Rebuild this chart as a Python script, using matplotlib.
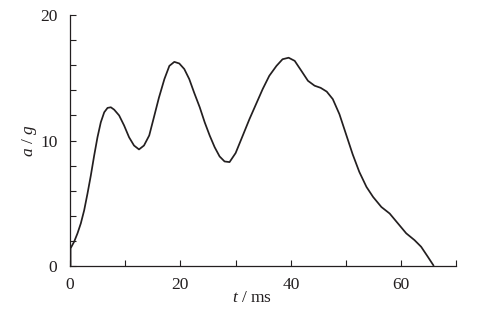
import matplotlib
matplotlib.use('Agg')
import matplotlib.pyplot as plt

plt.rcParams['font.family'] = 'Liberation Serif'
plt.rcParams['mathtext.fontset'] = 'custom'
plt.rcParams['mathtext.it'] = 'Liberation Serif:italic'
plt.rcParams['mathtext.rm'] = 'Liberation Serif'

# time (ms) and acceleration (g)
t = [0.1, 0.1, 0.75, 1.36, 1.96, 2.57, 3.17, 3.77, 4.38, 4.98, 5.58, 6.2, 6.8,
     7.4, 8.0, 8.9, 9.8, 10.7, 11.6, 12.5, 13.4, 14.35, 15.2, 16.1, 17.1,
     18.0, 18.9, 19.8, 20.7, 21.6, 22.5, 23.5, 24.4, 25.3, 26.2, 27.1, 28.0,
     28.9, 30.0, 31.3, 32.5, 33.7, 34.9, 36.1, 37.4, 38.5, 39.6, 40.7, 41.9,
     43.1, 44.3, 45.4, 46.5, 47.6, 48.8, 50.0, 51.2, 52.4, 53.7, 54.9, 56.4,
     57.9, 59.4, 60.9, 62.4, 63.6, 64.8, 65.9]
a = [0.0, 1.4, 1.93, 2.6, 3.39, 4.44, 5.77, 7.2, 8.8, 10.26, 11.45, 12.25, 12.6,
     12.65, 12.46, 12.0, 11.2, 10.26, 9.6, 9.29, 9.6, 10.4, 11.85, 13.4, 14.9,
     15.95, 16.27, 16.14, 15.7, 14.9, 13.8, 12.65, 11.45, 10.4, 9.47, 8.73,
     8.33, 8.28, 9.0, 10.4, 11.7, 12.9, 14.1, 15.16, 15.95, 16.48, 16.6,
     16.35, 15.56, 14.76, 14.37, 14.2, 13.9, 13.3, 12.1, 10.5, 8.9, 7.5, 6.3,
     5.5, 4.7, 4.18, 3.39, 2.6, 2.06, 1.53, 0.74, 0.0]

xticks = [0, 20, 40, 60]

fig = plt.figure(figsize=(4.81, 3.14), dpi=100)
ax = fig.add_axes([0.1455, 0.153, 0.8035, 0.799])
ax.plot(t, a, color='#231f20', lw=1.25, solid_joinstyle='round',
        solid_capstyle='butt')

ax.set_xlim(0, 70)
ax.set_ylim(0, 20)
ax.set_xticks(xticks)
ax.set_xticks(range(10, 80, 20), minor=True)
ax.set_yticks([0, 10, 20])
ax.set_yticks([2, 4, 6, 8, 12, 14, 16, 18], minor=True)

for s in ['top', 'right']:
    ax.spines[s].set_visible(False)
for s in ['left', 'bottom']:
    ax.spines[s].set_color('#231f20')
    ax.spines[s].set_linewidth(0.9)

ax.tick_params(which='both', direction='in', length=4, width=0.8,
               color='#231f20', labelsize=12.5, labelcolor='#231f20')
ax.tick_params(axis='x', which='both', pad=8)
ax.tick_params(axis='y', which='both', pad=9)

ax.set_xlabel('$t$ / ms', fontsize=12.5, color='#231f20')
ax.set_ylabel('$a$ / $g$', fontsize=12.5, color='#231f20')
ax.xaxis.set_label_coords(0.47, -0.095)
ax.yaxis.set_label_coords(-0.08, 0.5)

fig.savefig('out.png', dpi=100)
